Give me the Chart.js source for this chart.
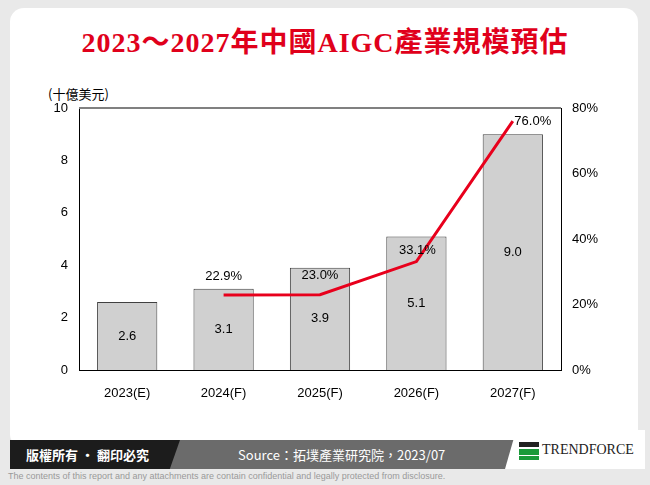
<!DOCTYPE html>
<html><head><meta charset="utf-8">
<script src="https://cdn.jsdelivr.net/npm/chart.js@4"></script>
<style>
body{margin:0;width:650px;height:485px;background:#e9e9e9;font-family:"Liberation Sans",Arial,sans-serif;position:relative;overflow:hidden}
#card{position:absolute;left:10px;top:8px;width:628px;height:440px;background:#fff;border-radius:14px}
#title{position:absolute;left:0;top:20px;width:650px;text-align:center;color:#e0001b;font:bold 28px "Liberation Serif","Noto Sans CJK TC",serif;letter-spacing:1px}
#unit{position:absolute;left:48px;top:84px;font-size:13px;color:#000;font-family:"Noto Sans CJK TC",sans-serif}
#wrap{position:absolute;left:20px;top:78px;width:600px;height:330px}
#foot{position:absolute;left:10px;top:440px;width:630px;height:29px;background:#6b6b6b}
#fl{position:absolute;left:10px;top:440px;width:170px;height:29px;background:#1c1c1c;clip-path:polygon(0 0,100% 0,94% 100%,0 100%);color:#fff;font:bold 13px "Noto Sans CJK TC";line-height:29px;padding-left:16px;box-sizing:border-box}
#src{position:absolute;left:238px;top:440px;color:#fff;font:13px "Noto Sans CJK TC";line-height:29px}
#logo{position:absolute;left:505px;top:430px;width:140px;height:39px;background:#fff;clip-path:polygon(8% 0,100% 0,100% 100%,0 100%)}
#logo span{position:absolute;left:37px;top:12px;font:14px "Liberation Serif",serif;color:#222}
#logo i{position:absolute;left:14px;top:12px;width:20px;height:18px;background:linear-gradient(#222 0 30%,#fff 30% 40%,#1a9a3a 40% 70%,#fff 70% 80%,#1a9a3a 80%)}
#disc{position:absolute;left:8px;top:471px;font-size:9px;color:#999}
</style></head><body>
<div id="card"></div>
<div id="title">2023～2027年中國AIGC產業規模預估</div>
<div id="unit">(十億美元)</div>
<div id="wrap"><canvas id="c"></canvas></div>
<div id="foot"></div><div id="fl">版權所有 · 翻印必究</div>
<div id="src">Source：拓墣產業研究院，2023/07</div>
<div id="logo"><i></i><span>TRENDFORCE</span></div>
<div id="disc">The contents of this report and any attachments are contain confidential and legally protected from disclosure.</div>
<script>
const categories = ["2023(E)", "2024(F)", "2025(F)", "2026(F)", "2027(F)"];
const marketSize = [2.6, 3.1, 3.9, 5.1, 9.0];
const growthRate = [null, 22.9, 23.0, 33.1, 76.0];

// label offsets for the line labels (dx, dy)
const lineLabelOffset = [null, [0, -19], [0, -19], [1, -11], [20, 0]];

const labelPlugin = {
  id: "labels",
  afterDatasetsDraw(chart) {
    const ctx = chart.ctx;
    ctx.save();
    ctx.font = "13px 'Liberation Sans', Arial";
    ctx.fillStyle = "#000";
    ctx.textAlign = "center";
    ctx.textBaseline = "middle";
    chart.getDatasetMeta(0).data.forEach((b, i) => {
      ctx.fillText(marketSize[i].toFixed(1), b.x, (b.y + b.base) / 2);
    });
    chart.getDatasetMeta(1).data.forEach((p, i) => {
      if (growthRate[i] == null) return;
      const o = lineLabelOffset[i];
      ctx.fillText(growthRate[i].toFixed(1) + "%", p.x + o[0], p.y + o[1]);
    });
    const a = chart.chartArea;
    ctx.strokeStyle = "#808080";
    ctx.lineWidth = 2;
    ctx.beginPath(); ctx.moveTo(a.left, a.top); ctx.lineTo(a.right, a.top); ctx.stroke();
    ctx.restore();
  }
};

new Chart(document.getElementById("c"), {
  data: {
    labels: categories,
    datasets: [
      { type: "bar", data: marketSize, backgroundColor: "#d0d0d0", borderColor: "#404040", borderWidth: 1,
        barPercentage: 0.625, categoryPercentage: 1, yAxisID: "y", order: 2 },
      { type: "line", data: growthRate, borderColor: "#e8001c", borderWidth: 3, pointRadius: 0,
        tension: 0, yAxisID: "y1", order: 1 }
    ]
  },
  options: {
    responsive: true, maintainAspectRatio: false, animation: false,
    layout: { padding: { top: 30 } },
    plugins: { legend: { display: false }, tooltip: { enabled: false } },
    scales: {
      x: { grid: { display: false }, border: { color: "#000" },
           ticks: { color: "#000", font: { size: 13 }, padding: 8 },
           afterFit: s => { s.height = 38; } },
      y: { min: 0, max: 10, ticks: { stepSize: 2, color: "#000", font: { size: 13 } },
           grid: { display: false }, border: { color: "#000" },
           afterFit: s => { s.width = 59; } },
      y1: { position: "right", min: 0, max: 80, ticks: { stepSize: 20, color: "#000", font: { size: 13 }, callback: v => v + "%" },
           grid: { display: false }, border: { color: "#000" },
           afterFit: s => { s.width = 59; } }
    }
  },
  plugins: [labelPlugin]
});
</script>
</body></html>
